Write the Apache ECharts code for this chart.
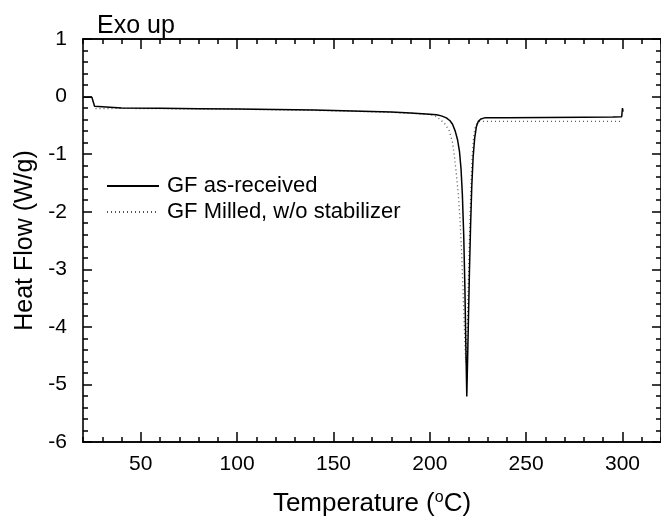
<!DOCTYPE html>
<html>
<head>
<meta charset="utf-8">
<script src="https://cdn.jsdelivr.net/npm/echarts@6/dist/echarts.min.js"></script>
<style>html,body{margin:0;padding:0;background:#fff;}#c{width:661px;height:523px;}</style>
</head>
<body>
<div id="c"></div>
<script>
// ---- data ----
const seriesNames = ['GF as-received', 'GF Milled, w/o stabilizer'];
const tempAsReceived = [20.3, 24.6, 25.3, 26.0, 27.0, 40, 60, 80, 100, 120, 140, 160, 180, 190, 200, 203.5, 206, 208.6, 210.5, 211.8, 213.2, 214.4, 215.4, 216.2, 216.9, 217.6, 218.2, 218.7, 219.2, 219.6, 220.1, 220.6, 221.2, 221.8, 222.5, 223.3, 224.2, 225.2, 226.5, 228.5, 240, 260, 280, 295, 299.6, 300.0, 300.3];
const flowAsReceived = [-0.01, -0.01, -0.09, -0.17, -0.20, -0.20, -0.205, -0.21, -0.215, -0.225, -0.235, -0.25, -0.27, -0.285, -0.305, -0.315, -0.335, -0.37, -0.42, -0.48, -0.60, -0.75, -0.95, -1.25, -1.70, -2.40, -3.30, -4.30, -5.21, -4.60, -3.80, -3.00, -2.20, -1.55, -1.05, -0.72, -0.52, -0.43, -0.39, -0.37, -0.37, -0.365, -0.36, -0.355, -0.35, -0.20, -0.26];
const tempMilled = [26.5, 40, 60, 80, 100, 120, 140, 160, 180, 190, 200, 203, 205.5, 208, 210.2, 211.8, 212.8, 213.8, 214.8, 215.7, 216.5, 217.2, 217.8, 218.3, 218.7, 219.1, 219.6, 220.2, 220.8, 221.4, 222.0, 222.7, 223.5, 224.5, 226, 230, 250, 270, 290, 299];
const flowMilled = [-0.21, -0.205, -0.21, -0.215, -0.22, -0.23, -0.24, -0.255, -0.275, -0.29, -0.31, -0.34, -0.40, -0.48, -0.60, -0.80, -1.05, -1.35, -1.70, -2.15, -2.70, -3.30, -3.90, -4.35, -4.62, -4.45, -3.80, -3.00, -2.20, -1.55, -1.05, -0.72, -0.55, -0.46, -0.43, -0.43, -0.43, -0.43, -0.43, -0.43];
const xMajorTicks = [50, 100, 150, 200, 250, 300];
const xMin = 20, xMax = 320, yMin = -6, yMax = 1;

const FONT = '"Liberation Sans", Arial, Helvetica, sans-serif';
const zip = (a, b) => a.map((v, i) => [v, b[i]]);

const chart = echarts.init(document.getElementById('c'));

function xAxisDef(pos, major, withLabel) {
  const ax = {
    type: 'value', position: pos, min: xMin, max: xMax,
    splitLine: {show: false},
    axisLine: {show: true, onZero: false, lineStyle: {color: '#000', width: 1.6}},
    axisTick: {show: true, inside: true, length: major ? 10 : 5, lineStyle: {color: '#000', width: 1.5}},
    axisLabel: {show: false}
  };
  if (major) {
    ax.axisTick.customValues = xMajorTicks;
  } else {
    ax.interval = 10;
  }
  if (withLabel) {
    ax.axisLabel = {show: true, customValues: xMajorTicks, margin: 12, color: '#000', fontFamily: FONT, fontSize: 21};
    ax.name = '{a|Temperature (}{s|o}{a|C)}';
    ax.nameLocation = 'middle';
    ax.nameGap = 48;
    ax.nameTextStyle = {rich: {
      a: {fontFamily: FONT, fontSize: 26, color: '#000'},
      s: {fontFamily: FONT, fontSize: 16, color: '#000', verticalAlign: 'top', padding: [0, 0, 12, 0]}
    }};
  }
  return ax;
}
function yAxisDef(pos, withLabel) {
  const ax = {
    type: 'value', position: pos, min: yMin, max: yMax, interval: 1,
    splitLine: {show: false},
    axisLine: {show: true, onZero: false, lineStyle: {color: '#000', width: 1.6}},
    axisTick: {show: true, inside: true, length: 9, lineStyle: {color: '#000', width: 1.5}},
    minorTick: {show: true, splitNumber: 5, length: 5, lineStyle: {color: '#000', width: 1.5}},
    axisLabel: {show: withLabel, margin: 16, color: '#000', fontFamily: FONT, fontSize: 21}
  };
  if (withLabel) {
    ax.name = 'Heat Flow (W/g)';
    ax.nameLocation = 'middle';
    ax.nameGap = 40;
    ax.nameTextStyle = {fontFamily: FONT, fontSize: 25, color: '#000'};
  }
  return ax;
}

const option = {
  animation: false,
  grid: {left: 83, top: 39, width: 584, height: 403},
  xAxis: [
    xAxisDef('bottom', false, false),
    xAxisDef('bottom', true, true),
    xAxisDef('top', false, false),
    xAxisDef('top', true, false)
  ],
  yAxis: [yAxisDef('left', true), yAxisDef('right', false)],
  legend: {
    orient: 'vertical', left: 101, top: 170, itemGap: 4,
    itemWidth: 52, itemHeight: 12,
    itemStyle: {opacity: 0},
    textStyle: {fontFamily: FONT, fontSize: 22, color: '#000', padding: [0, 0, 0, 3], lineHeight: 22},
    data: seriesNames
  },
  graphic: [{
    type: 'text', left: 97, top: 14,
    style: {text: 'Exo up', fontFamily: FONT, fontSize: 25, fill: '#000'}
  }],
  series: [
    {
      name: seriesNames[0], type: 'line', xAxisIndex: 1, yAxisIndex: 0,
      data: zip(tempAsReceived, flowAsReceived),
      symbol: 'none', showSymbol: false,
      itemStyle: {color: '#000'},
      lineStyle: {color: '#000', width: 1.5}, z: 3
    },
    {
      name: seriesNames[1], type: 'line', xAxisIndex: 1, yAxisIndex: 0,
      data: zip(tempMilled, flowMilled),
      symbol: 'none', showSymbol: false,
      itemStyle: {color: '#555'},
      lineStyle: {color: '#555', width: 1.3, type: [1, 3]}, z: 2
    }
  ]
};
chart.setOption(option);
</script>
</body>
</html>
